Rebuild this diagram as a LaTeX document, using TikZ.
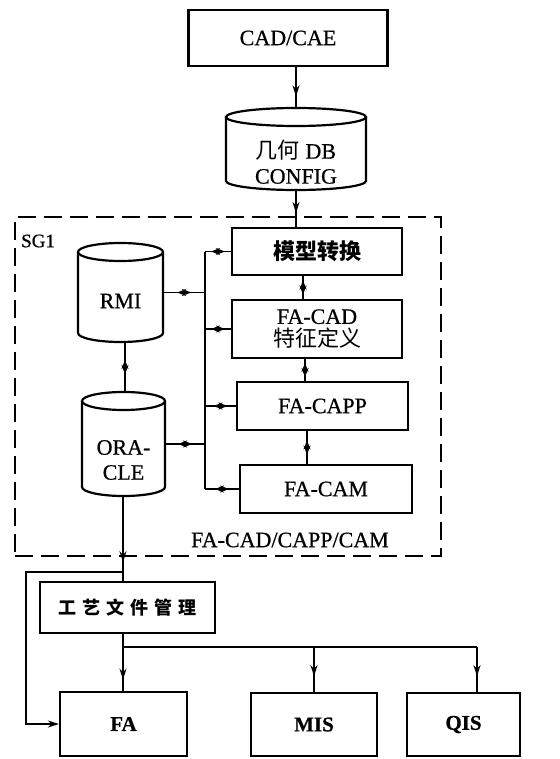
\documentclass[tikz,border=0pt]{standalone}
\usepackage{fontspec}
\setmainfont{Liberation Serif}[FakeBold=0.7]
\newfontfamily\cjk{Noto Sans CJK SC}
\usetikzlibrary{arrows.meta,decorations.markings,calc}
\begin{document}
\begin{tikzpicture}[x=1pt,y=-1pt,
  box/.style={draw, line width=2.2pt, inner sep=0pt, align=center, font=\fontsize{22}{23}\selectfont},
  cylbody/.style={inner sep=0pt, align=center, font=\fontsize{22}{25}\selectfont},
  cylline/.style={line width=2.2pt},
  conn/.style={line width=1.6pt},
  bi/.style={conn, postaction=decorate, decoration={markings,
     mark=at position 0.5 with {\pgftransformxshift{7pt}\arrow[line width=1.6pt]{Stealth[length=9pt,width=7pt]}},
     mark=at position 0.5 with {\pgftransformxshift{-7pt}\arrowreversed[line width=1.6pt]{Stealth[length=9pt,width=7pt]}}}},
  one/.style={conn, postaction=decorate, decoration={markings,
     mark=at position #1 with {\arrow[line width=1.6pt]{Stealth[length=11pt,width=7pt]}}}},
  dashbox/.style={draw, line width=1.3pt, dash pattern=on 18pt off 8pt}
]
\useasboundingbox (0,0) rectangle (559,759);

% dashed frame
\node[dashbox, minimum width=426, minimum height=339, inner sep=0pt] (frame) at (228,386.5) {};
\node[anchor=west, inner sep=0pt, font=\fontsize{19}{20}\selectfont] (sg) at (21,241) {SG1};
\node[inner sep=0pt, font=\fontsize{22}{23}\selectfont] (fal) at (290,540) {FA-CAD/CAPP/CAM};

% top box
\node[box, minimum width=199, minimum height=56] (cad) at (288,38) {CAD/CAE};

% cylinders: cx, top, bottom, rx, e
\newcommand\mycyl[5]{%
  \draw[cylline] ({#1-#4},{#2+#5}) -- ({#1-#4},{#3-#5})
     arc[start angle=180, end angle=0, x radius=#4, y radius=#5] -- ({#1+#4},{#2+#5});
  \draw[cylline] (#1,{#2+#5}) ellipse[x radius=#4, y radius=#5];}

\mycyl{296}{108}{190}{70}{9}
\node[inner sep=0pt, minimum width=140, minimum height=82] (dbcyl) at (296,149) {};
\node[cylbody] (db) at (296,162) {{\cjk 几何} DB\\CONFIG};

\mycyl{120.5}{243}{342}{42.5}{9}
\node[inner sep=0pt, minimum width=85, minimum height=99] (rmicyl) at (120.5,292.5) {};
\node[cylbody] (rmi) at (120.5,301) {RMI};

\mycyl{123.5}{392}{496}{41.5}{9}
\node[inner sep=0pt, minimum width=83, minimum height=104] (oracyl) at (123.5,444) {};
\node[cylbody] (ora) at (123.5,460) {ORA-\\CLE};

% module boxes
\node[box, minimum width=170, minimum height=47] (mod) at (317,251.5) {{\cjk\bfseries 模型转换}};
\node[box, minimum width=170, minimum height=58] (fac) at (317,329) {FA-CAD\\{\cjk 特征定义}};
\node[box, minimum width=171, minimum height=48] (capp) at (322.5,406) {FA-CAPP};
\node[box, minimum width=172, minimum height=48] (cam) at (326,489) {FA-CAM};

% bottom boxes
\node[box, minimum width=175, minimum height=51] (gy) at (127.5,607.5)
  {\fontsize{18}{20}\selectfont\cjk\bfseries 工\hspace{6pt}艺\hspace{6pt}文\hspace{6pt}件\hspace{6pt}管\hspace{6pt}理};
\node[box, minimum width=127, minimum height=64, font=\fontsize{21}{22}\selectfont\bfseries] (fa) at (123.5,724) {FA};
\node[box, minimum width=126, minimum height=63, font=\fontsize{21}{22}\selectfont\bfseries] (mis) at (314,724.5) {MIS};
\node[box, minimum width=113, minimum height=63, font=\fontsize{21}{22}\selectfont\bfseries] (qis) at (463.5,724.5) {QIS};

% coordinates
\coordinate (bx) at (205,0);
\coordinate (rx) at (125,0);
\coordinate (ox) at (123,0);
\coordinate (v1) at (303,0);
\coordinate (v2) at (305,0);
\coordinate (v3) at (307,0);
\coordinate (hb) at (0,647);
\coordinate (qx) at (477,0);
\coordinate (j) at (123,572);
\coordinate (lp) at (26,572);

% top flow
\draw[one=0.72] (dbcyl.north |- cad.south) -- (dbcyl.north);
\draw[one=0.62] (dbcyl.south) -- (dbcyl.south |- mod.north);

% bus
\draw[conn] (bx |- mod.west) -- (bx |- cam.west);
\draw[bi] (bx |- mod.west) -- (mod.west);
\draw[bi] (bx |- fac.west) -- (fac.west);
\draw[bi] (bx |- capp.west) -- (capp.west);
\draw[bi] (bx |- cam.west) -- (cam.west);
\draw[bi] (rmicyl.east) -- (bx |- rmicyl.east);
\draw[bi] (oracyl.east) -- (bx |- oracyl.east);

% vertical links
\draw[bi] (rx |- rmicyl.south) -- (rx |- oracyl.north);
\draw[bi] (v1 |- mod.south) -- (v1 |- fac.north);
\draw[bi] (v2 |- fac.south) -- (v2 |- capp.north);
\draw[bi] (v3 |- capp.south) -- (v3 |- cam.north);

% lower flow
\draw[one=0.78] (ox |- oracyl.south) -- (ox |- gy.north);
\draw[conn, -{Stealth[length=11pt,width=7pt]}] (j) -- (lp) |- (fa.west);
\draw[one=0.8] (ox |- gy.south) -- (ox |- fa.north);
\draw[conn] (ox |- hb) -- (qx |- hb);
\draw[one=0.65] (mis.north |- hb) -- (mis.north);
\draw[one=0.65] (qx |- hb) -- (qx |- qis.north);
\end{tikzpicture}
\end{document}
